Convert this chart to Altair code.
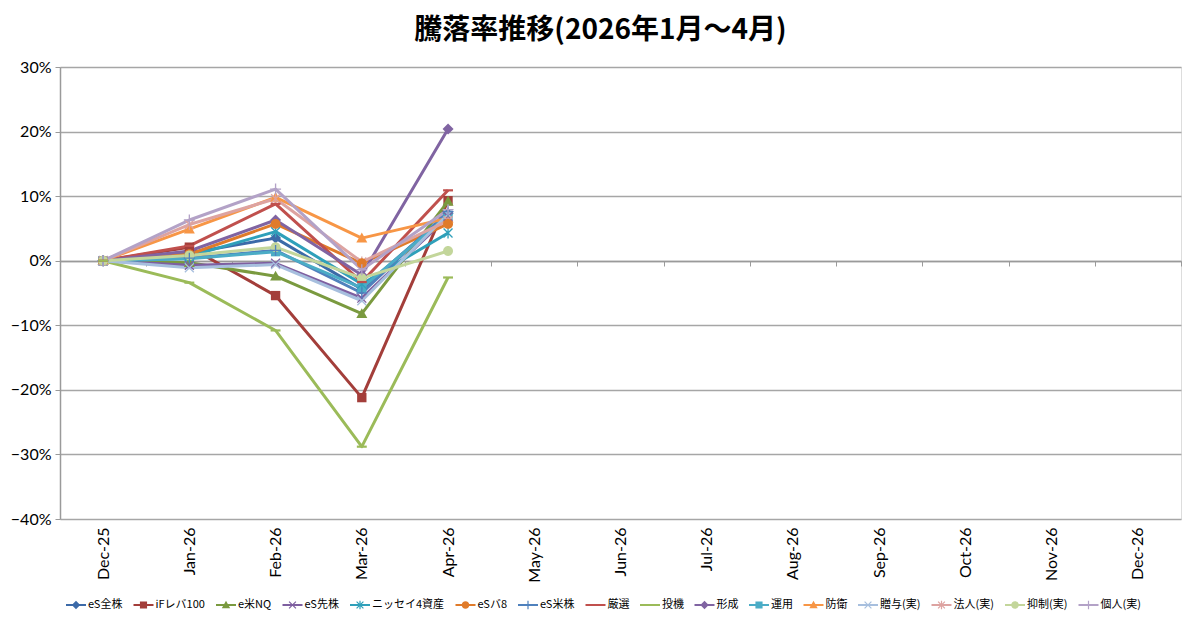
import math
import altair as alt
import pandas as pd

# ---------------- data ----------------
months = ["Dec-25", "Jan-26", "Feb-26", "Mar-26", "Apr-26", "May-26", "Jun-26",
          "Jul-26", "Aug-26", "Sep-26", "Oct-26", "Nov-26", "Dec-26"]

series_names = ["eS全株", "iFレバ100", "e米NQ", "eS先株", "ニッセイ4資産", "eSバ8", "eS米株",
                "厳選", "投機", "形成", "運用", "防衛", "贈与(実)", "法人(実)", "抑制(実)", "個人(実)"]

series_colors = ["#3C6AA8", "#A33E3A", "#7A9A3F", "#7E5FA0", "#2FA0BA", "#E07B2A", "#4F81BD",
                 "#C0504D", "#9BBB59", "#8064A2", "#4BACC6", "#F79646", "#A7BFDE", "#DDA3A1",
                 "#C3D69B", "#B3A2C7"]

# percent change, Dec-25 .. Apr-26
v_es_zenkabu = [0, 1.2, 3.5, -4.4, 7.3]
v_if_leva100 = [0, 2.1, -5.4, -21.2, 9.3]
v_e_bei_nq = [0, -0.3, -2.4, -8.2, 9.2]
v_es_sensin = [0, -0.7, -0.4, -5.8, 6.8]
v_nissei4 = [0, 0.7, 4.5, -3.6, 4.3]
v_es_ba8 = [0, 1.0, 5.7, -0.4, 5.7]
v_es_beikabu = [0, 0.4, 1.6, -5.0, 7.6]
v_gensen = [0, 2.3, 8.8, -3.3, 10.9]
v_toki = [0, -3.4, -10.8, -28.8, -2.6]
v_keisei = [0, 1.5, 6.3, -2.2, 20.4]
v_unyo = [0, 0.3, 1.4, -4.2, 7.0]
v_boei = [0, 4.9, 9.8, 3.5, 6.6]
v_zoyo = [0, -1.1, -0.6, -6.2, 7.2]
v_hojin = [0, 5.6, 9.6, -0.2, 6.2]
v_yokusei = [0, 0.8, 2.1, -2.7, 1.5]
v_kojin = [0, 6.3, 11.1, -1.4, 7.9]

series_values = [v_es_zenkabu, v_if_leva100, v_e_bei_nq, v_es_sensin, v_nissei4, v_es_ba8,
                 v_es_beikabu, v_gensen, v_toki, v_keisei, v_unyo, v_boei, v_zoyo, v_hojin,
                 v_yokusei, v_kojin]

marker_types = ["diamond", "square", "triangle", "x", "asterisk", "circle", "plus", "dash", "dash",
                "diamond", "square", "triangle", "x", "asterisk", "circle", "plus"]

y_ticks = [-0.4, -0.3, -0.2, -0.1, 0.0, 0.1, 0.2, 0.3]

rows = []
for name, col, vals in zip(series_names, series_colors, series_values):
    for m, v in zip(months, vals):
        rows.append({"series": name, "col": col, "month": m, "value": v / 100.0})
df = pd.DataFrame(rows)


# ---------------- marker shapes (SVG paths in unit square) ----------------
def poly(pts):
    return "M" + "L".join(f"{x:.3f},{y:.3f}" for x, y in pts) + "Z"


def bar(angle, half_len, half_th):
    a = math.radians(angle)
    c, s = math.cos(a), math.sin(a)
    pts = [(-half_len, -half_th), (half_len, -half_th), (half_len, half_th), (-half_len, half_th)]
    return poly([(x * c - y * s, x * s + y * c) for x, y in pts])


def circ(r):
    return f"M{r:.3f},0A{r:.3f},{r:.3f} 0 1,1 {-r:.3f},0A{r:.3f},{r:.3f} 0 1,1 {r:.3f},0Z"


def marker_path(kind, s, t):
    if kind == "diamond":
        return poly([(0, -s), (s, 0), (0, s), (-s, 0)])
    if kind == "square":
        k = 0.85 * s
        return poly([(-k, -k), (k, -k), (k, k), (-k, k)])
    if kind == "triangle":
        return poly([(0, -s), (s, 0.8 * s), (-s, 0.8 * s)])
    if kind == "x":
        return bar(45, 1.15 * s, t) + bar(-45, 1.15 * s, t)
    if kind == "asterisk":
        return bar(45, 1.15 * s, t) + bar(-45, 1.15 * s, t) + bar(90, s, t)
    if kind == "circle":
        return circ(0.9 * s)
    if kind == "plus":
        return bar(0, s, t) + bar(90, s, t)
    if kind == "dash":
        return bar(0, 0.9 * s, 0.2 * s)
    return ""


plot_marker = {k: marker_path(k, 1.0, 0.12) for k in set(marker_types)}
legend_line = bar(0, 1.0, 0.11)
legend_paths = [legend_line + marker_path(k, 0.42, 0.06) for k in marker_types]

# ---------------- chart ----------------
x_enc = alt.X(
    "month:N",
    scale=alt.Scale(type="band", domain=months, paddingInner=0, paddingOuter=0),
    sort=months,
    title=None,
    axis=alt.Axis(
        offset=-258, labelAngle=270, labelPadding=261, labelFont="Lato", labelFontSize=16,
        labelColor="#000000", domainColor="#9A9A9A", domainWidth=1.5, tickColor="#9A9A9A",
        tickSize=5, tickBand="extent", grid=False,
    ),
)
y_enc = alt.Y(
    "value:Q",
    scale=alt.Scale(domain=[-0.4, 0.3], nice=False, zero=False),
    title=None,
    axis=alt.Axis(
        values=y_ticks, format=".0%", labelFont="Lato", labelFontSize=16, labelColor="#000000",
        labelPadding=4, domainColor="#9A9A9A", domainWidth=1.5, tickColor="#9A9A9A", tickSize=5,
        grid=True, gridColor="#A6A6A6", gridWidth=1.5,
    ),
)

base = alt.Chart(df)

lines = base.mark_line(strokeWidth=3, strokeJoin="round").encode(
    x=x_enc, y=y_enc,
    stroke=alt.Stroke("col:N", scale=None),
    detail="series:N",
)

layers = [lines]
for kind in ["diamond", "square", "triangle", "x", "asterisk", "circle", "plus", "dash"]:
    members = [n for n, k in zip(series_names, marker_types) if k == kind]
    layers.append(
        base.transform_filter(alt.FieldOneOfPredicate(field="series", oneOf=members))
        .mark_point(shape=plot_marker[kind], filled=True, size=121, opacity=1, strokeWidth=0)
        .encode(x=x_enc, y=y_enc, fill=alt.Fill("col:N", scale=None))
    )

legend_def = alt.Legend(
    orient="none",
    legendX=6,
    legendY=528,
    direction="horizontal",
    columns=16,
    title=None,
    labelFont="Noto Sans CJK JP",
    labelFontSize=11,
    labelColor="#000000",
    symbolSize=400,
    symbolStrokeWidth=0,
    labelOffset=2,
    columnPadding=10.5,
)

# legend-only layer: its points sit far outside the y domain and are clipped away
legend_layer = (
    base.transform_filter(alt.datum.month == "Dec-25")
    .mark_point(filled=True, size=400, opacity=1, clip=True)
    .encode(
        x=x_enc,
        y=alt.Y(datum=5),
        color=alt.Color("series:N", scale=alt.Scale(domain=series_names, range=series_colors),
                        legend=legend_def),
        shape=alt.Shape("series:N", scale=alt.Scale(domain=series_names, range=legend_paths),
                        legend=legend_def),
    )
)
layers.append(legend_layer)

chart = alt.layer(*layers).properties(
    width=1121,
    height=452,
    title=alt.TitleParams(
        "騰落率推移(2026年1月～4月)", font="Noto Sans CJK JP", fontSize=28, fontWeight="bold",
        color="#000000", anchor="middle", dx=-20, offset=14,
    ),
    autosize=alt.AutoSizeParams(type="none"),
    padding={"left": 52, "top": 59, "right": 11, "bottom": 97},
).configure_view(stroke=None).configure(background="white")

chart.save("out.html", embed_options={"renderer": "svg", "actions": False})
